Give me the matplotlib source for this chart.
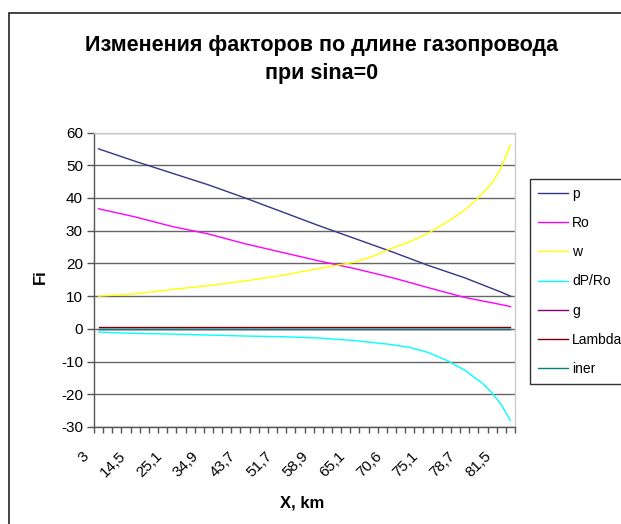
import matplotlib
matplotlib.use('Agg')
import matplotlib.pyplot as plt
from matplotlib.patches import Rectangle
from matplotlib.transforms import ScaledTranslation
import numpy as np

plt.rcParams['font.family'] = ['Liberation Sans', 'DejaVu Sans']
plt.rcParams['axes.unicode_minus'] = False

# Points along the pipeline (category axis, every 4th point is labelled)
N_POINTS = 46
X_LABELS = ['3', '14,5', '25,1', '34,9', '43,7', '51,7', '58,9',
            '65,1', '70,6', '75,1', '78,7', '81,5']

# Factor values, sampled at the given point indices
IDX = [0, 4, 8, 12, 16, 20, 24, 28, 32, 36, 40, 44, 45]
P = [55, 51.2, 47.6, 44, 40, 35.8, 31.6, 27.6, 23.6, 19.4, 15.6, 11.2, 10]
RO = [36.7, 34.2, 31.3, 29, 26, 23.4, 20.8, 18.4, 15.7, 12.6, 9.6, 7.4, 6.8]

W_IDX = [0, 4, 8, 12, 16, 20, 24, 28, 30, 32, 34, 36, 38, 40, 41, 42, 43, 44, 45]
W = [10, 10.7, 12, 13.2, 14.6, 16.3, 18.4, 20.4, 22.2, 24.6, 26.6, 29.2,
     32.5, 36.3, 38.7, 41.5, 44.6, 49.3, 56.2]

DP_IDX = [0, 4, 8, 12, 16, 20, 24, 28, 32, 34, 36, 38, 40, 42, 43, 44, 45]
DP_RO = [-1, -1.4, -1.6, -1.9, -2.2, -2.4, -2.8, -3.6, -4.8, -5.7, -7.2,
         -9.6, -12.6, -16.8, -19.6, -23.2, -28]

ENDS = [0, 45]
G = [0, 0]
LAMBDA = [0.7, 0.7]
INER = [0, 0]

fig = plt.figure(figsize=(6.21, 5.24), dpi=100)
ax = fig.add_axes([94 / 621, 1 - 427 / 524, 421 / 621, 294.5 / 524])

# chart area frame
fig.patches.append(Rectangle((9 / 621, -0.1), 1.2, 1.1 - 13 / 524,
                             transform=fig.transFigure, fill=False,
                             edgecolor='#222222', linewidth=1.2))

for y in range(-30, 61, 10):
    ax.axhline(y, color='#666666', linewidth=1, zorder=1)

lw = 1.0
ax.plot(IDX, P, color='#343488', lw=lw, label='p', zorder=3)
ax.plot(IDX, RO, color='#ff00ff', lw=lw, label='Ro', zorder=3)
ax.plot(W_IDX, W, color='#ffff00', lw=lw, label='w', zorder=3)
ax.plot(DP_IDX, DP_RO, color='#00ffff', lw=lw, label='dP/Ro', zorder=3)
ax.plot(ENDS, G, color='#800080', lw=lw, label='g', zorder=3)
ax.plot(ENDS, LAMBDA, color='#800000', lw=lw, label='Lambda', zorder=3)
ax.plot(ENDS, INER, color='#008080', lw=lw, label='iner', zorder=3)

ax.set_xlim(-0.5, N_POINTS - 0.5)
ax.set_ylim(-30, 60)
ax.set_yticks(range(-30, 61, 10))
ax.tick_params(axis='y', direction='out', length=5, width=1,
               color='#555555', labelsize=11, pad=3)

ax.set_xticks(np.arange(0, 45, 4))
ax.set_xticklabels(X_LABELS, rotation=45, ha='right', va='top', fontsize=11)
ax.set_xticks(np.arange(-0.5, N_POINTS, 1), minor=True)
ax.tick_params(axis='x', which='major', length=0, pad=16)
ax.tick_params(axis='x', which='minor', direction='out', length=4,
               width=1, color='#555555')
shift = ScaledTranslation(-7 / 100, 0, fig.dpi_scale_trans)
for lbl in ax.get_xticklabels():
    lbl.set_transform(lbl.get_transform() + shift)

for side in ('left', 'bottom'):
    ax.spines[side].set_color('#555555')
    ax.spines[side].set_linewidth(1)
for side in ('top', 'right'):
    ax.spines[side].set_color('#cccccc')
    ax.spines[side].set_linewidth(1)

fig.text(322 / 621, 1 - 45 / 524, 'Изменения факторов по длине газопровода',
         ha='center', va='center', fontsize=15.5, fontweight='bold')
fig.text(322 / 621, 1 - 73 / 524, 'при sina=0',
         ha='center', va='center', fontsize=15.5, fontweight='bold')
fig.text(40 / 621, 1 - 277 / 524, 'Fi', rotation=90, ha='center',
         va='center', fontsize=12, fontweight='bold')
fig.text(302 / 621, 1 - 503 / 524, 'X, km', ha='center', va='center',
         fontsize=12, fontweight='bold')

leg = fig.legend(loc='upper left', bbox_to_anchor=(530 / 621, 1 - 179 / 524),
                 fontsize=10, frameon=True, fancybox=False, framealpha=1,
                 edgecolor='#333333', borderpad=0.55, labelspacing=1.1,
                 handlelength=2.2, handletextpad=0.3, borderaxespad=0)
leg.get_frame().set_linewidth(1)

fig.savefig('out.png', dpi=100)
